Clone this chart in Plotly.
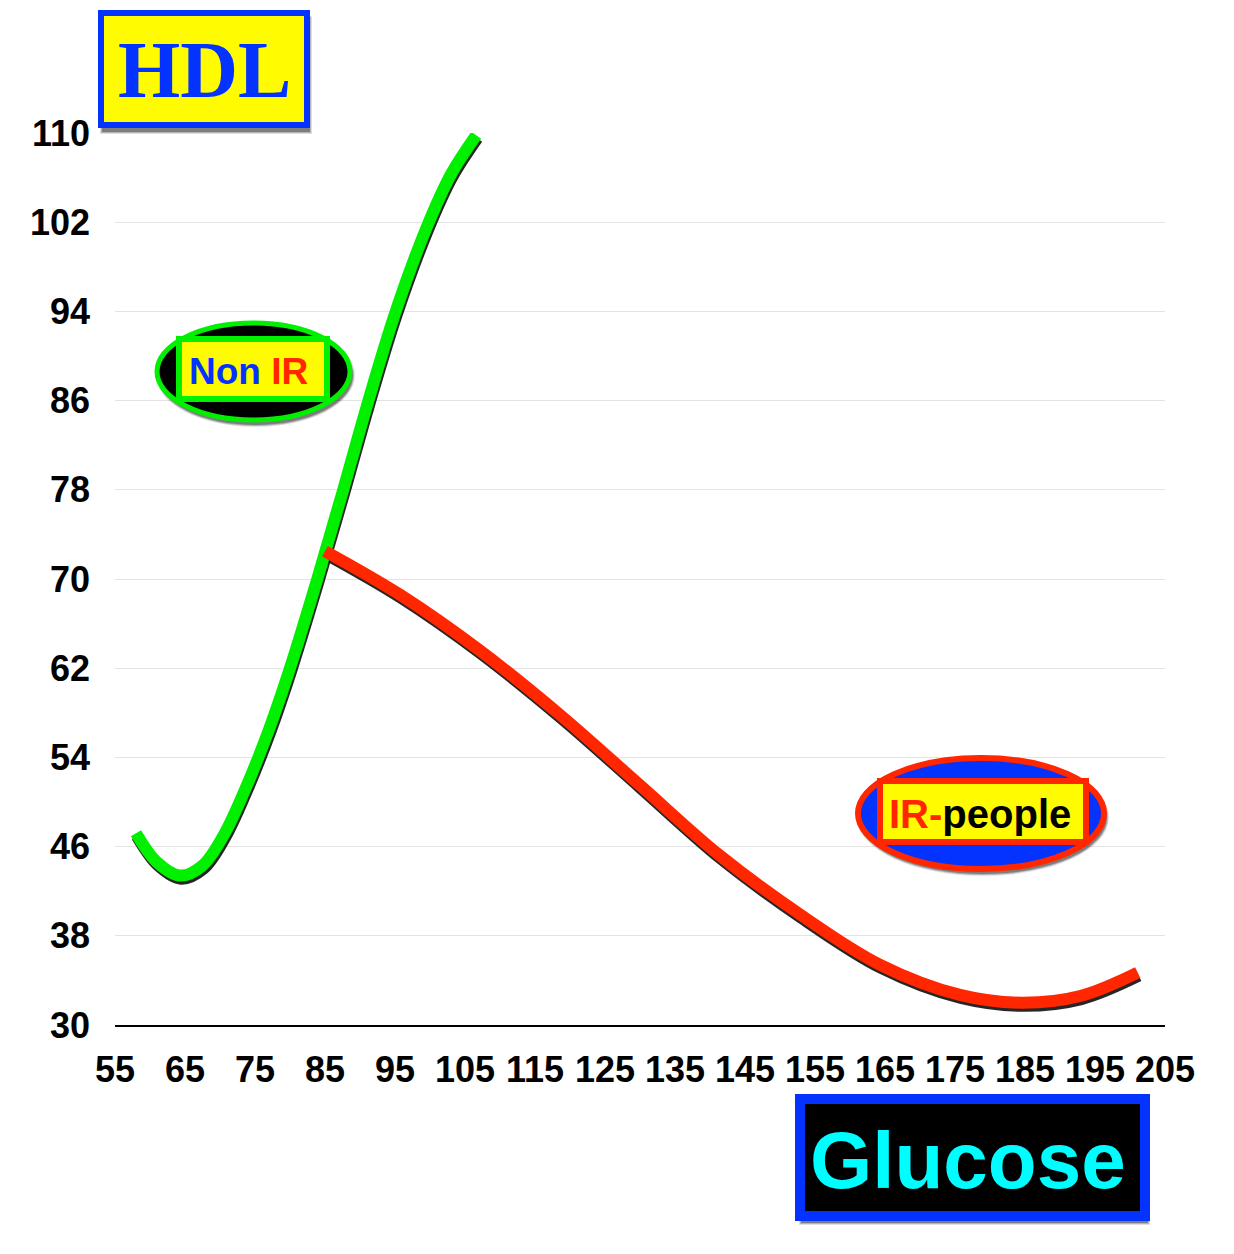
import plotly.graph_objects as go

# HDL vs glucose
non_ir_glucose = [58.0, 61.0, 64.3, 67.5, 70.5, 73.5, 77.0, 80.0, 83.9, 87.6, 91.2, 95.1, 99.5, 103.0, 106.6]
non_ir_hdl = [47.2, 44.6, 43.4, 44.3, 47.0, 51.0, 56.5, 62.0, 70.0, 78.0, 86.0, 94.0, 101.5, 106.3, 109.8]

ir_glucose = [85.0, 95.7, 107.1, 118.6, 130.0, 141.4, 152.9, 164.3, 175.7, 184.5, 192.9, 201.1]
ir_hdl = [72.5, 68.6, 63.6, 57.8, 51.5, 45.2, 39.9, 35.4, 32.7, 32.0, 32.6, 34.7]

x_ticks = list(range(55, 206, 10))
y_ticks = list(range(30, 111, 8))

# the page body has an 8px margin, so figure pixels = screen pixels - 8
OFF = 8
W, H = 1234 - 2 * OFF, 1254 - 2 * OFF
L, R, T, B = 115, 1165, 133, 1025


def px(x):
    return (x - L) / (R - L)


def py(y):
    return (B - y) / (B - T)


GREEN = "#00f000"
RED = "#ff2600"
BLUE = "#0433ff"
YELLOW = "#fffb00"
FONT = "Liberation Sans"

fig = go.Figure()

# shadows (on shifted hidden axes, drawn underneath)
for gx, gy in [(non_ir_glucose, non_ir_hdl), (ir_glucose, ir_hdl)]:
    fig.add_trace(go.Scatter(x=gx, y=gy, mode="lines", xaxis="x", yaxis="y",
                             line=dict(color="rgba(0,0,0,0.85)", width=12, shape="spline", smoothing=1.0),
                             hoverinfo="skip", showlegend=False))

fig.add_trace(go.Scatter(x=non_ir_glucose, y=non_ir_hdl, mode="lines", xaxis="x2", yaxis="y2",
                         line=dict(color=GREEN, width=12, shape="spline", smoothing=1.0),
                         name="Non IR", showlegend=False))
fig.add_trace(go.Scatter(x=ir_glucose, y=ir_hdl, mode="lines", xaxis="x2", yaxis="y2",
                         line=dict(color=RED, width=12, shape="spline", smoothing=1.0),
                         name="IR-people", showlegend=False))

shapes = []
annotations = []


def shadow(kind, x0, y0, x1, y1, dy=6):
    for i, a in enumerate([0.12, 0.2, 0.3]):
        g = 3 - i
        shapes.append(dict(type=kind, xref="paper", yref="paper", layer="above",
                           x0=px(x0 - g + 2), x1=px(x1 + g + 2), y0=py(y0 + dy - g), y1=py(y1 + dy + g),
                           line=dict(width=0), fillcolor="rgba(0,0,0,%s)" % a))


def box(kind, x0, y0, x1, y1, color, width, fill):
    shapes.append(dict(type=kind, xref="paper", yref="paper", layer="above",
                       x0=px(x0), x1=px(x1), y0=py(y0), y1=py(y1),
                       line=dict(color=color, width=width), fillcolor=fill))


def label(x, y, text, size, color="black", family=FONT):
    annotations.append(dict(xref="paper", yref="paper", x=px(x), y=py(y), text=text,
                            showarrow=False, xanchor="center", yanchor="middle",
                            font=dict(family=family, size=size, color=color, weight="bold")))


# HDL title box
shadow("rect", 101, 13, 307, 125)
box("rect", 101, 13, 307, 125, BLUE, 6, YELLOW)
label(204, 70, "HDL", 80, BLUE, "Liberation Serif")

# Non IR badge
shadow("circle", 157, 323, 350, 420, dy=4)
box("circle", 157, 323, 350, 420, GREEN, 5, "black")
box("rect", 179, 339, 327, 399, GREEN, 6, YELLOW)
label(248, 371, "<span style='color:%s'>Non</span> <span style='color:%s'>IR</span>" % (BLUE, RED), 37)

# IR-people badge
shadow("circle", 858, 758, 1104, 869, dy=4)
box("circle", 858, 758, 1104, 869, RED, 6, BLUE)
box("rect", 880, 781, 1086, 842, RED, 6, YELLOW)
label(980, 814, "<span style='color:%s'>IR-</span>people" % RED, 40)

# Glucose title box
shadow("rect", 800, 1099, 1145, 1216)
box("rect", 800, 1099, 1145, 1216, BLUE, 10, "black")
label(968, 1160, "Glucose", 80, "#00fdff")

tick_font = dict(family=FONT, size=36, color="black", weight="bold")

fig.update_layout(
    width=W, height=H,
    margin=dict(l=L - OFF, r=W - (R - OFF), t=T - OFF, b=H - (B - OFF)),
    paper_bgcolor="white", plot_bgcolor="white",
    showlegend=False,
    shapes=shapes,
    annotations=annotations,
    xaxis=dict(range=[55 - 0.15, 205 - 0.15], visible=False, showgrid=False),
    yaxis=dict(range=[30 + 0.28, 110 + 0.28], visible=False, showgrid=False),
    xaxis2=dict(overlaying="x", side="bottom", range=[55, 205], tickmode="array",
                tickvals=x_ticks, ticktext=[str(v) for v in x_ticks], showgrid=False,
                zeroline=False, showline=True, linecolor="black", linewidth=2,
                ticks="", ticklabelstandoff=12, tickfont=tick_font),
    yaxis2=dict(overlaying="y", side="left", range=[30, 110], tickmode="array",
                tickvals=y_ticks, ticktext=[str(v) for v in y_ticks], showgrid=True,
                gridcolor="#e3e3e3", gridwidth=1, zeroline=False, showline=False,
                ticks="", ticklabelstandoff=24, tickfont=tick_font),
)

fig.write_html("out.html")
